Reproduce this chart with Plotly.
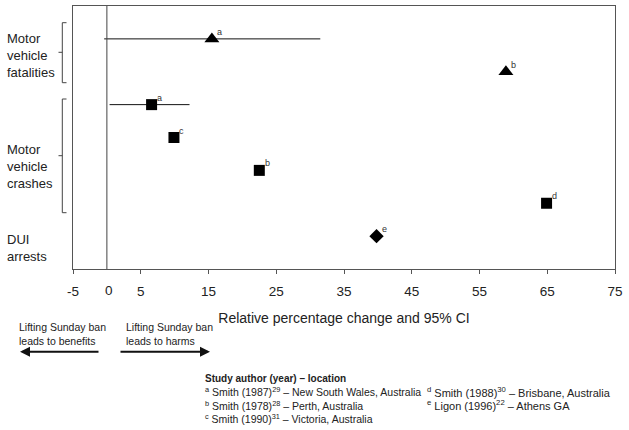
import plotly.graph_objects as go

# ---- data ----
study_letters = ["a", "b", "a", "c", "b", "d", "e"]
outcomes = ["Motor vehicle fatalities", "Motor vehicle fatalities",
            "Motor vehicle crashes", "Motor vehicle crashes",
            "Motor vehicle crashes", "Motor vehicle crashes", "DUI arrests"]
row_pos = [1, 2, 3, 4, 5, 6, 7]
pct_change = [15.5, 58.9, 6.6, 9.9, 22.5, 64.9, 39.8]
ci_low = [-0.4, None, 0.4, None, None, None, None]
ci_high = [31.5, None, 12.2, None, None, None, None]
marker_shapes = ["triangle-up", "triangle-up", "square", "square", "square", "square", "diamond"]
tick_vals = [-5, 5, 15, 25, 35, 45, 55, 65, 75]
tick_text = ["-5", "5", "15", "25", "35", "45", "55", "65", "75"]
legend_lines_left = [
    "<sup>a</sup> Smith (1987)<sup>29</sup> – New South Wales, Australia",
    "<sup>b</sup> Smith (1978)<sup>28</sup> – Perth, Australia",
    "<sup>c</sup> Smith (1990)<sup>31</sup> – Victoria, Australia",
]
legend_lines_right = [
    "<sup>d</sup> Smith (1988)<sup>30</sup> – Brisbane, Australia",
    "<sup>e</sup> Ligon (1996)<sup>22</sup> – Athens GA",
]

W, H = 629, 430
L, R, T, B = 73, 14, 6, 161
PW, PH = W - L - R, H - T - B


def px(x):
    return (x - L) / PW


def py(y):
    return (H - B - y) / PH


FONT = "Liberation Sans, Arial, sans-serif"
TXT = "#222222"

fig = go.Figure()

# markers with optional CI
for i in range(len(pct_change)):
    ex = None
    if ci_low[i] is not None:
        ex = dict(type="data", symmetric=False,
                  array=[ci_high[i] - pct_change[i]],
                  arrayminus=[pct_change[i] - ci_low[i]],
                  width=0, thickness=1, color="#111111")
    sym = marker_shapes[i]
    size = {"triangle-up": 13, "square": 11, "diamond": 11}[sym]
    fig.add_trace(go.Scatter(
        x=[pct_change[i]], y=[row_pos[i]], mode="markers",
        marker=dict(symbol=sym, color="black", size=size, line=dict(width=0)),
        error_x=ex, showlegend=False, hoverinfo="skip",
    ))
    fig.add_annotation(x=pct_change[i], y=row_pos[i], xref="x", yref="y",
                       text=study_letters[i], showarrow=False,
                       xshift=8, yshift=7, font=dict(size=9, color="#333333"))

fig.update_layout(
    width=W, height=H,
    margin=dict(l=L, r=R, t=T, b=B),
    plot_bgcolor="white", paper_bgcolor="white",
    font=dict(family=FONT, color=TXT, size=12),
    xaxis=dict(range=[-5, 75], tickvals=tick_vals, ticktext=tick_text,
               showgrid=False, zeroline=False, showline=True, mirror=True,
               linecolor="#555555", linewidth=1, ticks="outside", ticklen=4,
               tickcolor="#555555", tickfont=dict(size=13.5, color=TXT),
               ticklabelstandoff=6,
               title=dict(text="Relative percentage change and 95% CI",
                          font=dict(size=14, color=TXT), standoff=14)),
    yaxis=dict(range=[8, 0], showgrid=False, zeroline=False, showline=True,
               mirror=True, linecolor="#555555", linewidth=1,
               showticklabels=False, ticks=""),
)

# zero line
fig.add_shape(type="line", xref="x", yref="y", x0=0, x1=0, y0=0, y1=8,
              line=dict(color="#444444", width=1))
# "0" tick label
fig.add_annotation(x=0, y=py(290.5), xref="x", yref="paper", text="0",
                   showarrow=False, xshift=2, yanchor="middle",
                   font=dict(size=13.5, color=TXT))

# left category labels
for txt, yc in [("Motor<br>vehicle<br>fatalities", 55),
                ("Motor<br>vehicle<br>crashes", 166),
                ("DUI<br>arrests", 248.5)]:
    fig.add_annotation(x=px(5), y=py(yc), xref="paper", yref="paper", text=txt,
                       showarrow=False, xanchor="left", yanchor="middle", align="left",
                       font=dict(size=13, color=TXT))

# brackets
for y0, y1, ym in [(22.7, 82.7, 52.3), (99, 212.7, 155.7)]:
    fig.add_shape(type="line", xref="paper", yref="paper", x0=px(62.3), x1=px(62.3),
                  y0=py(y0), y1=py(y1), line=dict(color="#444444", width=1))
    for yy in (y0, y1):
        fig.add_shape(type="line", xref="paper", yref="paper", x0=px(62.3), x1=px(66.5),
                      y0=py(yy), y1=py(yy), line=dict(color="#444444", width=1))
    fig.add_shape(type="line", xref="paper", yref="paper", x0=px(58.5), x1=px(62.3),
                  y0=py(ym), y1=py(ym), line=dict(color="#444444", width=1))

# direction labels and arrows
fig.add_annotation(x=px(17), y=py(333.5), xref="paper", yref="paper",
                   text="Lifting Sunday ban<br>leads to benefits", showarrow=False,
                   xanchor="left", yanchor="middle", align="left",
                   font=dict(size=10.5, color=TXT))
fig.add_annotation(x=px(124), y=py(333.5), xref="paper", yref="paper",
                   text="Lifting Sunday ban<br>leads to harms", showarrow=False,
                   xanchor="left", yanchor="middle", align="left",
                   font=dict(size=10.5, color=TXT))
fig.add_annotation(x=px(20), y=py(351.7), ax=80, ay=0,
                   xref="paper", yref="paper", axref="pixel", ayref="pixel",
                   text="", showarrow=True, arrowhead=2, arrowsize=1, arrowwidth=2,
                   arrowcolor="#111111")
fig.add_annotation(x=px(210), y=py(351.7), ax=-91, ay=0,
                   xref="paper", yref="paper", axref="pixel", ayref="pixel",
                   text="", showarrow=True, arrowhead=2, arrowsize=1, arrowwidth=2,
                   arrowcolor="#111111")

# study legend
fig.add_annotation(x=px(203), y=py(378), xref="paper", yref="paper",
                   text="<b>Study author (year) – location</b>", showarrow=False,
                   xanchor="left", yanchor="middle", font=dict(size=10, color=TXT))
for i, line in enumerate(legend_lines_left):
    fig.add_annotation(x=px(203), y=py(391.7 + 13.3 * i), xref="paper", yref="paper",
                       text=line, showarrow=False, xanchor="left", yanchor="middle",
                       font=dict(size=10.5, color=TXT))
for i, line in enumerate(legend_lines_right):
    fig.add_annotation(x=px(425), y=py(391.7 + 13.3 * i), xref="paper", yref="paper",
                       text=line, showarrow=False, xanchor="left", yanchor="middle",
                       font=dict(size=11, color=TXT))

fig.write_html("out.html", config={"displayModeBar": False},
               post_script="document.body.style.margin='0px';")
